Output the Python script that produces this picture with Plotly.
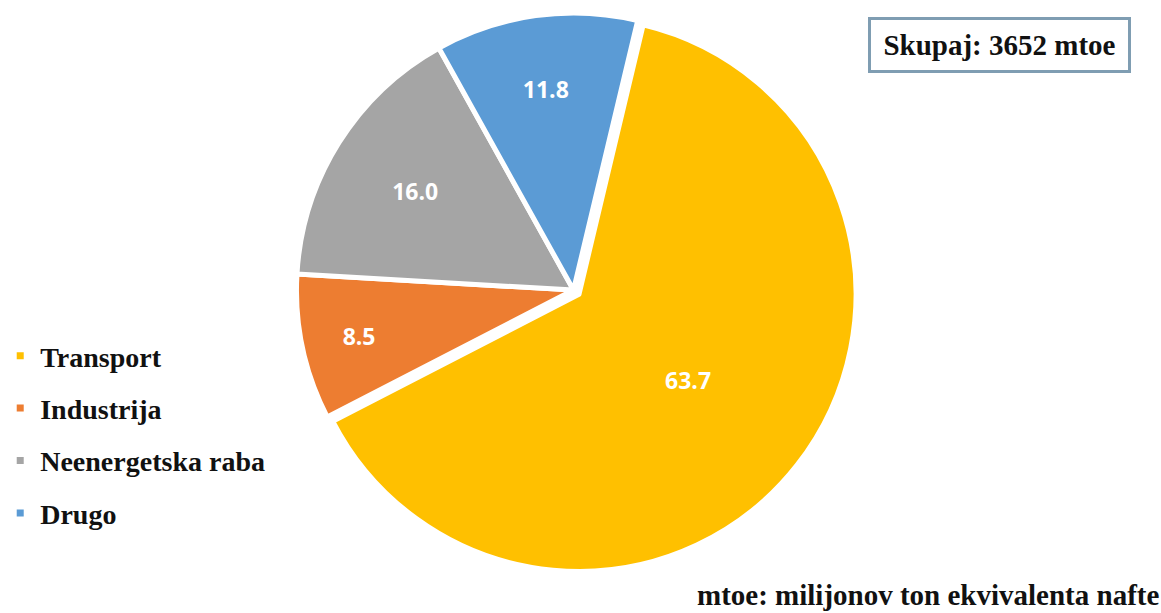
import plotly.graph_objects as go

categories = ["Transport", "Industrija", "Neenergetska raba", "Drugo"]
values = [63.7, 8.5, 16.0, 11.8]
colors = ["#FFC000", "#ED7D31", "#A5A5A5", "#5B9BD5"]
pulls = [0.025, 0, 0, 0]
total_label = "Skupaj: 3652 mtoe"
note_label = "mtoe: milijonov ton ekvivalenta nafte"

fig = go.Figure()
fig.add_trace(go.Pie(
    labels=categories,
    values=values,
    sort=False,
    direction="clockwise",
    rotation=13.4,
    pull=pulls,
    marker=dict(colors=colors, line=dict(color="white", width=5)),
    texttemplate="%{value:.1f}",
    textposition="inside",
    insidetextorientation="horizontal",
    textfont=dict(family="Open Sans", size=23, color="white", weight="bold"),
    showlegend=False,
    domain=dict(x=[0.2455, 0.7372], y=[0.0636, 0.990]),
    hoverinfo="label+value",
))

for name, col in zip(categories, colors):
    fig.add_trace(go.Scatter(
        x=[None], y=[None], mode="markers", name=name,
        marker=dict(symbol="square", size=7, color=col),
        legendgroup=name, showlegend=True,
    ))

fig.update_layout(
    width=1161, height=613,
    margin=dict(l=0, r=0, t=0, b=0),
    paper_bgcolor="white", plot_bgcolor="white",
    xaxis=dict(visible=False), yaxis=dict(visible=False),
    legend=dict(
        x=-0.005, y=(613 - 331) / 613, xanchor="left", yanchor="top",
        font=dict(family="Liberation Serif", size=28, color="#111111", weight="bold"),
        tracegroupgap=13, bgcolor="rgba(0,0,0,0)",
    ),
    annotations=[
        dict(text=total_label, x=(867 + 1130) / 2 / 1161, y=(613 - 45) / 613,
             xref="paper", yref="paper", xanchor="center", yanchor="middle",
             showarrow=False, bordercolor="#7F9DB2", borderwidth=3, borderpad=2,
             width=253, height=46, align="center", valign="middle",
             bgcolor="white",
             font=dict(family="Liberation Serif", size=29, color="#111111", weight="bold")),
        dict(text=note_label, x=1.0, y=0.0, xref="paper", yref="paper",
             xanchor="right", yanchor="bottom", showarrow=False,
             font=dict(family="Liberation Serif", size=29, color="#111111", weight="bold")),
    ],
)

fig.write_html("out.html")
